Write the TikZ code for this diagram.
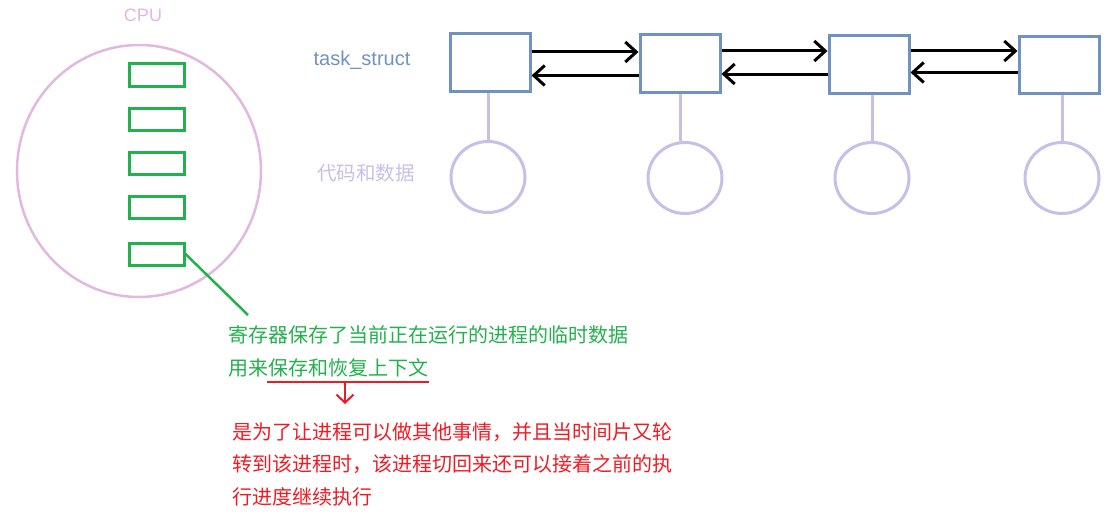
\documentclass[tikz,border=0pt]{standalone}
\usepackage{fontspec}
\setmainfont{Noto Sans CJK SC}
\newfontfamily\latfont{Liberation Sans}
\usetikzlibrary{arrows.meta,shapes.geometric}
\definecolor{cpupink}{HTML}{E0B8E0}
\definecolor{reggreen}{HTML}{22B14C}
\definecolor{taskblue}{HTML}{7092BE}
\definecolor{lav}{HTML}{C8BFE7}
\definecolor{myred}{HTML}{ED1C24}
\tikzset{
  reg/.style={draw=reggreen, line width=3pt, minimum width=55pt, minimum height=22pt, inner sep=0pt},
  task/.style={draw=taskblue, line width=3pt, minimum width=80pt, minimum height=57pt, inner sep=0pt},
  mem/.style={draw=lav, line width=3pt, ellipse, minimum width=74pt, minimum height=71pt, inner sep=0pt},
  link/.style={lav, line width=3pt},
  ptr/.style={black, line width=3pt, -{Straight Barb[length=11pt,width=20pt]}},
  txt/.style={inner sep=0pt, anchor=west},
  greentxt/.style={txt, text=reggreen, font=\fontsize{20}{24}\selectfont},
  redtxt/.style={txt, text=myred, font=\fontsize{20}{24}\selectfont},
}
\begin{document}
\begin{tikzpicture}[x=1pt,y=-1pt]
\useasboundingbox (0,0) rectangle (1113,519);
% CPU
\node[draw=cpupink, line width=2.5pt, ellipse, minimum width=244pt, minimum height=252pt, inner sep=0pt] (cpu) at (139,171) {};
\node[inner sep=0pt, text=cpupink, font=\latfont\fontsize{18}{20}\selectfont] (cpulbl) at (143,15) {CPU};
\node[reg] (r1) at (156.5,75) {};
\node[reg] (r2) at (156.5,119) {};
\node[reg] (r3) at (156.5,163) {};
\node[reg] (r4) at (156.5,207) {};
\node[reg] (r5) at (156.5,254) {};
\coordinate (gend) at (248,315);
\draw[reggreen, line width=2.5pt] (r5.east) -- (gend);
% green text
\node[greentxt] (g1) at (228,335) {寄存器保存了当前正在运行的进程的临时数据};
\node[greentxt] (g2) at (228,368) {用来保存和恢复上下文};
\coordinate (ul1) at (267,382);
\coordinate (ul2) at (429,382);
\coordinate (ulm) at (345,382);
\coordinate (ulend) at (345,404);
\draw[myred, line width=2.5pt] (ul1) -- (ul2);
\draw[myred, line width=2pt, -{Straight Barb[length=8pt,width=17pt]}] (ulm) -- (ulend);
% red text
\node[redtxt] (t1) at (232,432) {是为了让进程可以做其他事情，并且当时间片又轮};
\node[redtxt] (t2) at (232,464) {转到该进程时，该进程切回来还可以接着之前的执};
\node[redtxt] (t3) at (232,497) {行进度继续执行};
% labels
\node[inner sep=0pt, text=taskblue, font=\latfont\fontsize{20}{24}\selectfont] (tslbl) at (362,60) {task\_struct};
\node[inner sep=0pt, text=lav, font=\fontsize{19.5}{24}\selectfont] (cdlbl) at (366,173) {代码和数据};
% task boxes
\node[task] (b1) at (490,62.5) {};
\node[task] (b2) at (680,63.5) {};
\node[task] (b3) at (869,64.5) {};
\node[task] (b4) at (1059,65) {};
% memory circles
\node[mem] (m1) at (488,177) {};
\node[mem] (m2) at (685,178) {};
\node[mem] (m3) at (872,178) {};
\node[mem] (m4) at (1062,178) {};
\draw[link] (b1.south -| m1.north) -- (m1.north);
\draw[link] (b2.south) -- (b2.south |- m2.north);
\draw[link] (b3.south -| m3.north) -- (m3.north);
\draw[link] (b4.south -| m4.north) -- (m4.north);
% pointers
\draw[ptr] ([yshift=10.5pt]b1.east) -- ([yshift=10.5pt]b1.east -| b2.west);
\draw[ptr] ([yshift=-12pt]b2.west) -- ([yshift=-12pt]b2.west -| b1.east);
\draw[ptr] ([yshift=12.5pt]b2.east) -- ([yshift=12.5pt]b2.east -| b3.west);
\draw[ptr] ([yshift=-9.5pt]b3.west) -- ([yshift=-9.5pt]b3.west -| b2.east);
\draw[ptr] ([yshift=13.5pt]b3.east) -- ([yshift=13.5pt]b3.east -| b4.west);
\draw[ptr] ([yshift=-7.5pt]b4.west) -- ([yshift=-7.5pt]b4.west -| b3.east);
\end{tikzpicture}
\end{document}
